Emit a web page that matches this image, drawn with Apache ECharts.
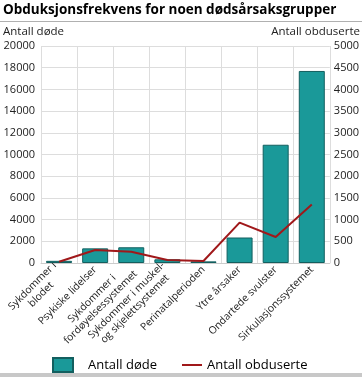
<!DOCTYPE html>
<html><head><meta charset="utf-8">
<script src="https://cdn.jsdelivr.net/npm/echarts@6/dist/echarts.min.js"></script>
<style>html,body{margin:0;padding:0;background:#fff}#c{width:362px;height:377px}</style>
</head><body><div id="c"></div>
<script>
var categories = ["Sykdommer i\nblodet", "Psykiske lidelser", "Sykdommer i\nfordøyelsessystemet", "Sykdommer i muskel-\nog skjelettsystemet", "Perinatalperioden", "Ytre årsaker", "Ondartede svulster", "Sirkulasjonssystemet"];
var deaths = [200, 1350, 1450, 340, 150, 2350, 10900, 17700];
var autopsies = [30, 300, 260, 70, 46, 930, 600, 1350];
var leftTicks = [0, 20000, 2000];
var rightTicks = [0, 5000, 500];

var font = "Open Sans";
var chart = echarts.init(document.getElementById('c'));
chart.setOption({
  animation: false,
  textStyle: {fontFamily: font},
  grid: {left: 41, right: 31, top: 46, bottom: 114, containLabel: false},
  graphic: [
    {type: 'text', left: 3, top: 3, style: {text: 'Obduksjonsfrekvens for noen dødsårsaksgrupper', font: 'bold 13.5px "Open Sans"', fill: '#000'}},
    {type: 'rect', shape: {x: 0, y: 21, width: 362, height: 1}, style: {fill: '#b0b0b0'}},
    {type: 'rect', shape: {x: 0, y: 373, width: 362, height: 4}, style: {fill: '#c8c8c8'}},
    {type: 'text', left: 3, top: 26, style: {text: 'Antall døde', font: '11.5px "Open Sans"', fill: '#222'}},
    {type: 'text', right: 2, top: 26, style: {text: 'Antall obduserte', font: '11.5px "Open Sans"', fill: '#222'}}
  ],
  legend: {
    top: 352, left: 47, itemWidth: 20, itemHeight: 14, itemGap: 24,
    textStyle: {fontSize: 13, color: '#000', fontFamily: font},
    data: [
      {name: 'Antall døde', icon: 'rect', textStyle: {padding: [0, 0, 0, 10]}},
      {name: 'Antall obduserte', itemStyle: {opacity: 0}}
    ]
  },
  xAxis: {
    type: 'category', data: categories,
    axisLine: {lineStyle: {color: '#ccc'}},
    axisTick: {show: false},
    splitLine: {show: true, lineStyle: {color: '#ddd'}},
    axisLabel: {rotate: 45, fontSize: 10.3, color: '#222', interval: 0, margin: 5, lineHeight: 12, align: 'right',
      formatter: function (v) { return v.split('\n').map(function (s) { return '{c|' + s + '}'; }).join('\n'); },
      rich: {c: {align: 'center', fontSize: 10.3, lineHeight: 12, color: '#222', fontFamily: font}}}
  },
  yAxis: [
    {type: 'value', min: leftTicks[0], max: leftTicks[1], interval: leftTicks[2],
     axisLine: {show: false}, axisTick: {show: false},
     splitLine: {lineStyle: {color: '#ddd'}},
     axisLabel: {fontSize: 11, color: '#222', margin: 6, formatter: function (v) { return String(v); }}},
    {type: 'value', min: rightTicks[0], max: rightTicks[1], interval: rightTicks[2],
     axisLine: {show: false}, axisTick: {show: false},
     splitLine: {show: false},
     axisLabel: {fontSize: 11, color: '#222', margin: 4, formatter: function (v) { return String(v); }}}
  ],
  series: [
    {name: 'Antall døde', type: 'bar', data: deaths, yAxisIndex: 0, barWidth: '72%',
     itemStyle: {color: '#1a9999', borderColor: '#135f5f', borderWidth: 1}},
    {name: 'Antall obduserte', type: 'line', data: autopsies, yAxisIndex: 1,
     symbol: 'none', lineStyle: {color: '#a0181a', width: 2}, itemStyle: {color: '#a0181a'}}
  ]
});
</script></body></html>
